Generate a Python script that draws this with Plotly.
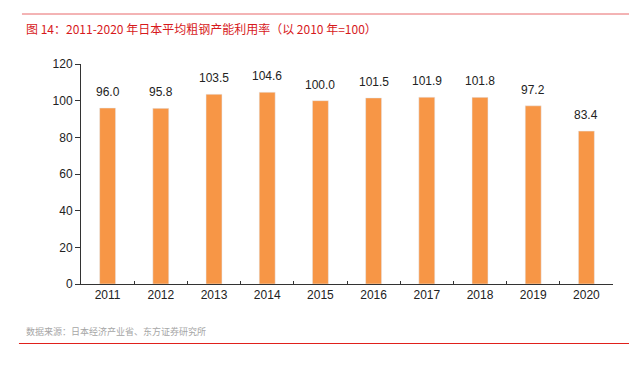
import plotly.graph_objects as go

years = ["2011", "2012", "2013", "2014", "2015", "2016", "2017", "2018", "2019", "2020"]
values = [96.0, 95.8, 103.5, 104.6, 100.0, 101.5, 101.9, 101.8, 97.2, 83.4]
y_ticks = [0, 20, 40, 60, 80, 100, 120]

# page offset from default body margin
OFF = 8
W, H = 637 - OFF, 369 - OFF
L, R, T, B = 81 - OFF, 637 - 612.7, 64 - OFF, 369 - 284
pw, ph = W - L - R, H - T - B

def px(x):
    return (x - OFF - L) / pw

def py(y):
    return (H - B - (y - OFF)) / ph

font = "Liberation Sans, Arial, Noto Sans CJK SC, sans-serif"
cjk = "Noto Sans CJK SC, sans-serif"

fig = go.Figure(go.Bar(x=years, y=values, marker_color="#F79646", width=0.30))

# category axis: annotation x given by category index
labels = [dict(x=i, y=v, xref="x", yref="y", text=f"{v:.1f}", showarrow=False,
               yanchor="bottom", yshift=7, font=dict(size=12, color="#222222", family=font))
          for i, v in enumerate(values)]

fig.update_layout(
    width=W, height=H, margin=dict(l=L, r=R, t=T, b=B),
    plot_bgcolor="white", paper_bgcolor="white", showlegend=False,
    xaxis=dict(type="category", range=[-0.5, len(years) - 0.5], showline=True, linecolor="#333333",
               linewidth=1, ticks="inside", ticklen=3, tickson="boundaries", tickcolor="#333333",
               tickfont=dict(size=12, color="#222222", family=font), showgrid=False),
    yaxis=dict(range=[0, 120], tickvals=y_ticks, showline=True, linecolor="#333333",
               linewidth=1, ticks="outside", ticklen=5, tickcolor="#333333",
               tickfont=dict(size=12, color="#222222", family=font), showgrid=False,
               zeroline=False),
    shapes=[
        dict(type="line", xref="paper", yref="paper", x0=px(22), x1=px(640), y0=py(14), y1=py(14),
             line=dict(color="#E8696A", width=1)),
        dict(type="line", xref="paper", yref="paper", x0=px(19), x1=px(640), y0=py(343.5), y1=py(343.5),
             line=dict(color="#E0201B", width=1)),
    ],
    annotations=labels + [
        dict(text="图 14：2011-2020 年日本平均粗钢产能利用率（以 2010 年=100）", xref="paper", yref="paper",
             x=px(24), y=py(28), xanchor="left", yanchor="middle", showarrow=False,
             font=dict(size=12, color="#D7191C", family=cjk)),
        dict(text="数据来源：日本经济产业省、东方证券研究所", xref="paper", yref="paper",
             x=px(24), y=py(331), xanchor="left", yanchor="middle", showarrow=False,
             font=dict(size=9, color="#A6A6A6", family=cjk)),
    ],
)

fig.write_html("out.html")
